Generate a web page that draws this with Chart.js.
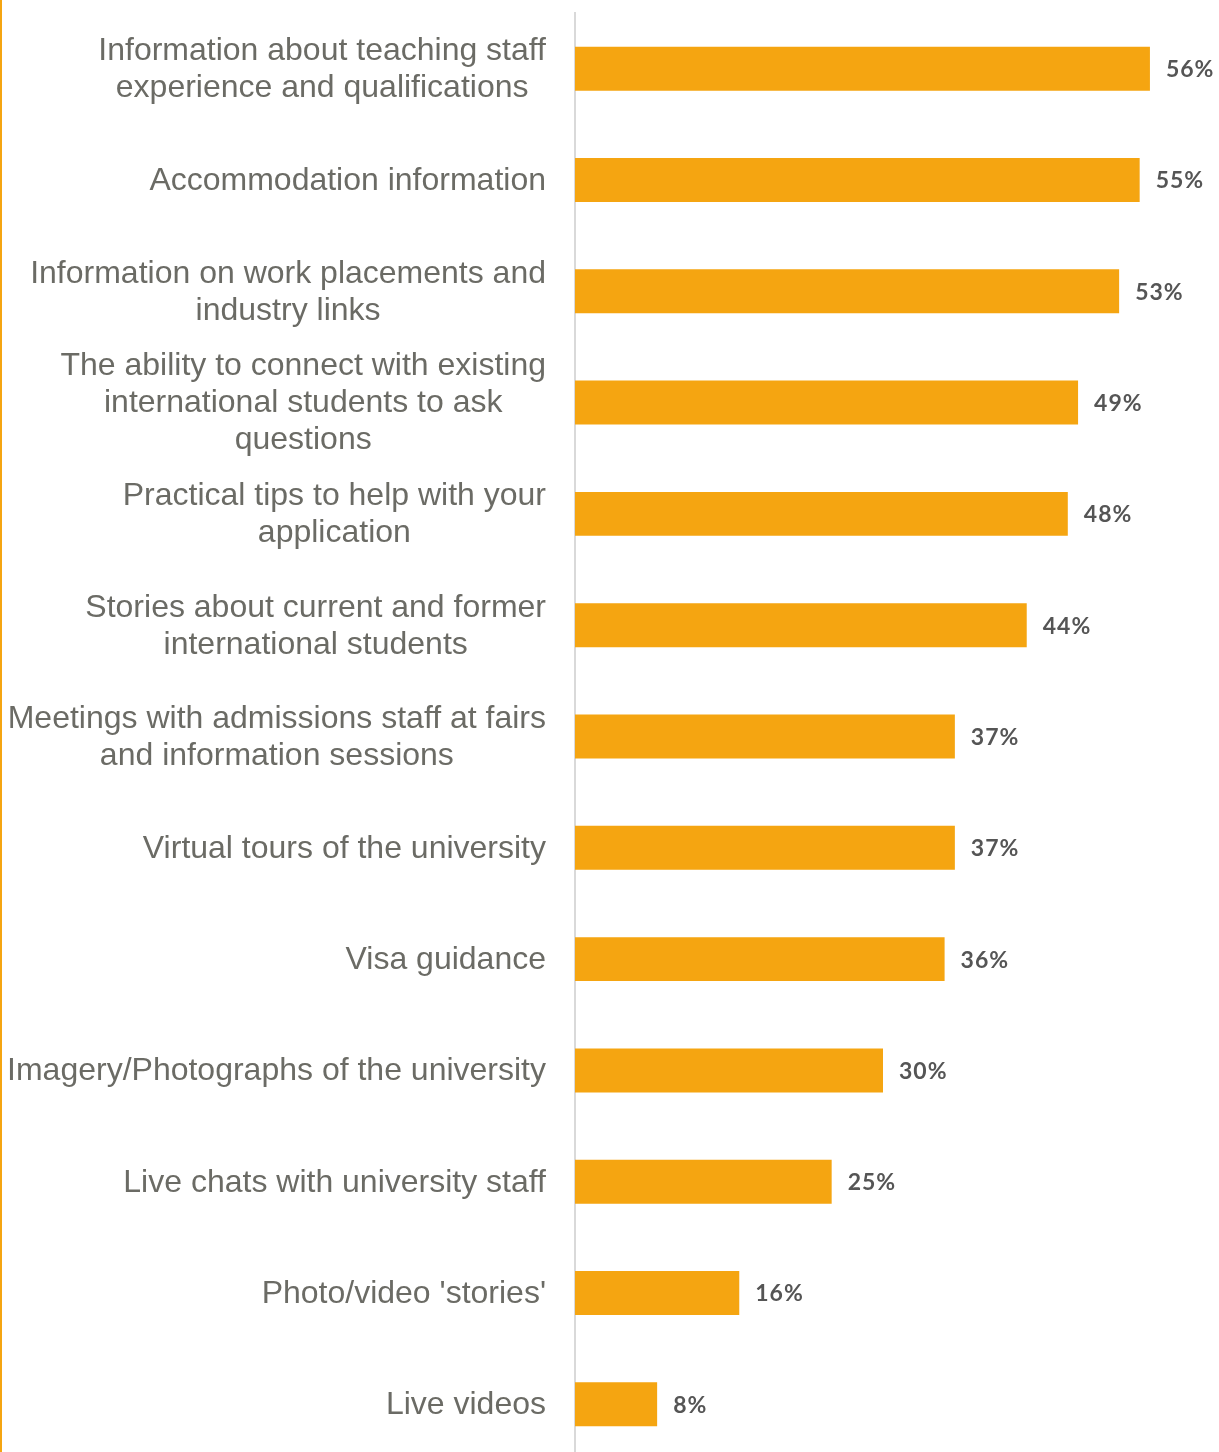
<!DOCTYPE html>
<html>
<head>
<meta charset="utf-8">
<script src="https://cdn.jsdelivr.net/npm/chart.js@4"></script>
<style>
  html, body { margin: 0; padding: 0; background: #fff; overflow: hidden; }
  #wrap { position: relative; width: 1217px; height: 1460px; border-left: 2px solid #f5a511; }
</style>
</head>
<body>
<div id="wrap"><canvas id="chart"></canvas></div>
<script>
const categories = [
  ["Information about teaching staff", "experience and qualifications"],
  ["Accommodation information"],
  ["Information on work placements and", "industry links"],
  ["The ability to connect with existing", "international students to ask", "questions"],
  ["Practical tips to help with your", "application"],
  ["Stories about current and former", "international students"],
  ["Meetings with admissions staff at fairs", "and information sessions"],
  ["Virtual tours of the university"],
  ["Visa guidance"],
  ["Imagery/Photographs of the university"],
  ["Live chats with university staff"],
  ["Photo/video 'stories'"],
  ["Live videos"],
];
const values = [56, 55, 53, 49, 48, 44, 37, 37, 36, 30, 25, 16, 8];

const barColor = "#f5a511";
const labelColor = "#6b6b65";
const valueColor = "#555555";

// category labels: block right-aligned at the axis, lines centred within the block
const categoryLabels = {
  id: "categoryLabels",
  afterDraw(chart) {
    const { ctx, scales } = chart;
    const right = scales.x.left - 29;
    const lineHeight = 37;
    ctx.save();
    ctx.font = "32px 'Liberation Sans', Arial, sans-serif";
    ctx.fillStyle = labelColor;
    ctx.textAlign = "center";
    ctx.textBaseline = "middle";
    categories.forEach((lines, i) => {
      const y = scales.y.getPixelForValue(i) + 1;
      const maxW = Math.max(...lines.map((l) => ctx.measureText(l).width));
      const cx = right - maxW / 2;
      const top = y - ((lines.length - 1) * lineHeight) / 2;
      lines.forEach((line, j) => ctx.fillText(line, cx, top + j * lineHeight));
    });
    ctx.restore();
  },
};

const valueLabels = {
  id: "valueLabels",
  afterDatasetsDraw(chart) {
    const { ctx } = chart;
    const meta = chart.getDatasetMeta(0);
    ctx.save();
    ctx.font = "bold 23px Lato, 'Open Sans', sans-serif";
    ctx.letterSpacing = "1px";
    ctx.fillStyle = valueColor;
    ctx.textAlign = "left";
    ctx.textBaseline = "middle";
    meta.data.forEach((bar, i) => {
      ctx.fillText(`${values[i]}%`, bar.x + 16, bar.y + 1);
    });
    ctx.restore();
  },
};

new Chart(document.getElementById("chart"), {
  type: "bar",
  data: {
    labels: categories.map((c) => c.join(" ")),
    datasets: [
      {
        data: values,
        backgroundColor: barColor,
        borderWidth: 0,
        barPercentage: 0.79,
        categoryPercentage: 0.5,
      },
    ],
  },
  options: {
    indexAxis: "y",
    responsive: true,
    maintainAspectRatio: false,
    animation: false,
    layout: { padding: { top: 13, right: 28, left: 0, bottom: 0 } },
    plugins: {
      legend: { display: false },
      tooltip: { enabled: false },
    },
    scales: {
      x: {
        display: false,
        min: 0,
        max: 60,
      },
      y: {
        afterFit(scale) {
          scale.width = 573;
        },
        ticks: { display: false },
        grid: { display: false },
        border: { display: true, color: "#d9d9d9", width: 2 },
      },
    },
  },
  plugins: [categoryLabels, valueLabels],
});
</script>
</body>
</html>
